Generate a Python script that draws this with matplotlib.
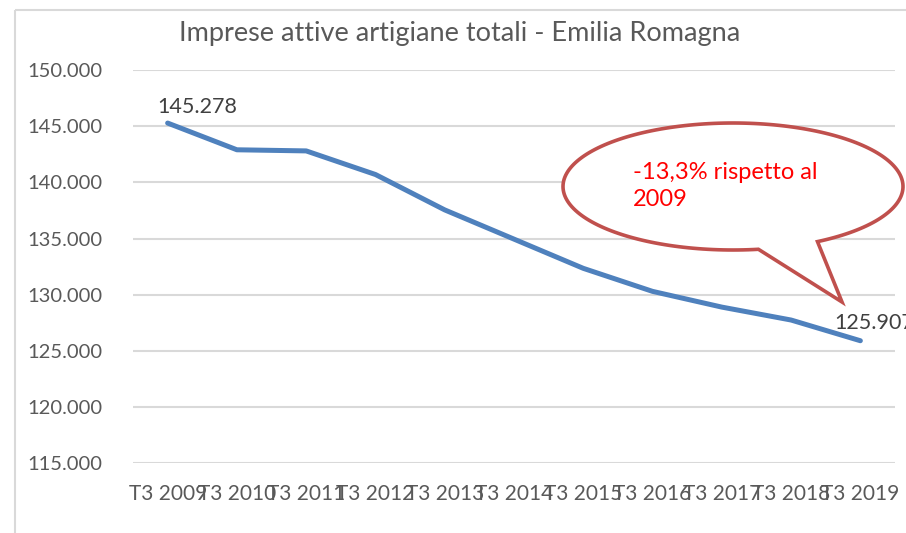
import numpy as np
import matplotlib
matplotlib.use("Agg")
import matplotlib.pyplot as plt
from matplotlib.path import Path
from matplotlib.patches import PathPatch, Rectangle

plt.rcParams['font.family'] = ['Lato', 'DejaVu Sans']

categories = ["T3 2009", "T3 2010", "T3 2011", "T3 2012", "T3 2013", "T3 2014",
              "T3 2015", "T3 2016", "T3 2017", "T3 2018", "T3 2019"]
values = [145278, 142900, 142800, 140700, 137550, 134950,
          132350, 130300, 128900, 127750, 125907]
yticks = [115000, 120000, 125000, 130000, 135000, 140000, 145000, 150000]
ytick_labels = ["115.000", "120.000", "125.000", "130.000", "135.000",
                "140.000", "145.000", "150.000"]
title = "Imprese attive artigiane totali - Emilia Romagna"
callout_text = "-13,3% rispetto al\n2009"

W, H = 906, 533
fig = plt.figure(figsize=(W / 100, H / 100), dpi=100)

# overlay in pixel coordinates for frame and callout
ov = fig.add_axes([0, 0, 1, 1], zorder=2)
ov.set_xlim(0, W)
ov.set_ylim(H, 0)
ov.axis('off')

ax = fig.add_axes([133 / W, (H - 463.3) / H, (895 - 133) / W, (463.3 - 70) / H], zorder=1)
ax.patch.set_alpha(0)
x = np.arange(len(categories))
ax.plot(x, values, color='#4F81BD', lw=3.6, solid_capstyle='round', solid_joinstyle='round', zorder=3)
ax.set_xlim(-0.5, len(categories) - 0.5)
ax.set_ylim(115000, 150000)
ax.set_yticks(yticks)
ax.set_yticklabels(ytick_labels)
ax.set_xticks(x)
ax.set_xticklabels(categories)
ax.grid(axis='y', color='#D9D9D9', lw=1.5)
ax.set_axisbelow(True)
for s in ax.spines.values():
    s.set_visible(False)
ax.tick_params(axis='both', length=0, colors='#595959')
ax.tick_params(axis='y', labelsize=14.5, pad=22)
ax.tick_params(axis='x', labelsize=15, pad=15)

fig.text(460 / W, 1 - 33 / H, title, ha='center', va='center', fontsize=19.5, color='#595959')

ax.annotate(f"{values[0]:,}".replace(",", "."), (x[0], values[0]), xytext=(-10, 6),
            textcoords='offset pixels', ha='left', va='bottom', fontsize=15.5, color='#404040')
ax.annotate(f"{values[-1]:,}".replace(",", "."), (x[-1], values[-1]), xytext=(-26, 18),
            textcoords='offset pixels', ha='left', va='center', fontsize=15.5, color='#404040',
            annotation_clip=False)

# speech-bubble callout
cx, cy, a, b = 733, 186.5, 170, 63.5
t0, t1 = np.deg2rad(81.4), np.deg2rad(60.2 + 360)
t = np.linspace(t0, t1, 200)
pts = list(zip(cx + a * np.cos(t), cy + b * np.sin(t)))
pts.append((842, 302))
pts.append(pts[0])
codes = [Path.MOVETO] + [Path.LINETO] * (len(pts) - 2) + [Path.CLOSEPOLY]
ov.add_patch(PathPatch(Path(pts, codes), facecolor='white', edgecolor='#C0504D', lw=2.6, zorder=5,
                       joinstyle='miter'))
ov.text(633, 186, callout_text, ha='left', va='center', fontsize=17, color='#FF0000',
        linespacing=1.3, zorder=6)
ov.add_patch(Rectangle((15, 10), 1000, 600, fill=False, edgecolor='#D9D9D9', lw=1.5))

fig.savefig("out.png", dpi=100)
